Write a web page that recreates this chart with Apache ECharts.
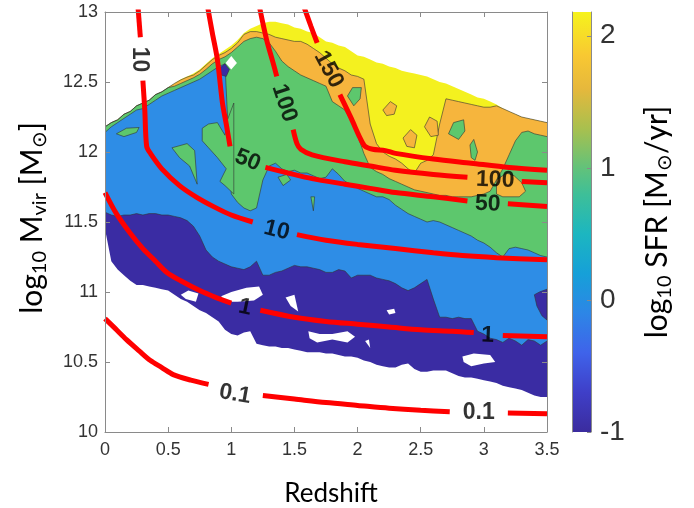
<!DOCTYPE html>
<html>
<head>
<meta charset="utf-8">
<script src="https://cdn.jsdelivr.net/npm/echarts@6/dist/echarts.min.js"></script>
<style>
html, body { margin: 0; padding: 0; background: #fff; }
#main { width: 694px; height: 508px; }
</style>
</head>
<body>
<div id="main"></div>
<script>
// redshift positions where the filled-contour edges were read
var zs = [0, 0.05, 0.1, 0.15, 0.2, 0.25, 0.3, 0.35, 0.4, 0.45,
  0.5, 0.55, 0.6, 0.65, 0.7, 0.75, 0.8, 0.85, 0.9, 0.95,
  1.0, 1.05, 1.1, 1.15, 1.2, 1.25, 1.3, 1.35, 1.4, 1.45,
  1.5, 1.55, 1.6, 1.65, 1.7, 1.75, 1.8, 1.85, 1.9, 1.95,
  2.0, 2.05, 2.1, 2.15, 2.2, 2.25, 2.3, 2.35, 2.4, 2.45,
  2.5, 2.55, 2.6, 2.65, 2.7, 2.75, 2.8, 2.85, 2.9, 2.95,
  3.0, 3.05, 3.1, 3.15, 3.2, 3.25, 3.3, 3.35, 3.4, 3.45, 3.5];

// upper edge of the data (yellow top)
var topData = [12.18, 12.21, 12.23, 12.27, 12.29, 12.33, 12.35, 12.37, 12.41, 12.43,
  12.46, 12.49, 12.52, 12.54, 12.56, 12.59, 12.63, 12.67, 12.70, 12.73,
  12.76, 12.80, 12.85, 12.88, 12.90, 12.92, 12.93, 12.93, 12.92, 12.91,
  12.89, 12.88, 12.86, 12.85, 12.82, 12.79, 12.78, 12.76, 12.75, 12.72,
  12.69, 12.68, 12.66, 12.64, 12.63, 12.61, 12.60, 12.58, 12.57, 12.56,
  12.55, 12.54, 12.52, 12.50, 12.49, 12.47, 12.45, 12.43, 12.41, 12.39,
  12.38, 12.36, 12.34, 12.31, 12.29, 12.27, 12.25, 12.24, 12.23, 12.22, 12.21];
// orange / yellow edge
var orangeTop = [12.18, 12.21, 12.23, 12.27, 12.29, 12.33, 12.35, 12.37, 12.41, 12.43,
  12.46, 12.49, 12.515, 12.535, 12.55, 12.58, 12.62, 12.66, 12.69, 12.71,
  12.74, 12.78, 12.84, 12.86, 12.86, 12.85, 12.84, 12.82, 12.81, 12.80,
  12.79, 12.79, 12.77, 12.74, 12.71, 12.67, 12.63, 12.60, 12.58, 12.55,
  12.54, 12.52, 12.20, 12.06, 12.00, 11.97, 11.95, 11.92, 11.88, 11.85,
  11.92, 11.94, 11.98, 12.20, 12.38, 12.37, 12.36, 12.35, 12.34, 12.33,
  12.32, 12.32, 12.33, 12.31, 12.29, 12.27, 12.25, 12.24, 12.23, 12.22, 12.21];
// green / orange edge
var greenTop = [12.18, 12.21, 12.23, 12.27, 12.29, 12.33, 12.35, 12.37, 12.41, 12.43,
  12.46, 12.47, 12.49, 12.51, 12.53, 12.555, 12.59, 12.63, 12.66, 12.68,
  12.71, 12.75, 12.79, 12.81, 12.82, 12.81, 12.78, 12.72, 12.65, 12.61,
  12.58, 12.55, 12.53, 12.51, 12.49, 12.47, 12.36, 12.33, 12.30, 12.22,
  12.12, 11.99, 11.89, 11.86, 11.84, 11.81, 11.79, 11.77, 11.75, 11.73,
  11.72, 11.71, 11.70, 11.69, 11.69, 11.68, 11.68, 11.68, 11.68, 11.69,
  11.70, 11.72, 11.80, 11.88, 11.98, 12.08, 12.14, 12.15, 12.13, 12.12, 12.11];
// blue / green edge
var blueTop = [12.14, 12.18, 12.21, 12.24, 12.27, 12.30, 12.31, 12.34, 12.37, 12.40,
  12.42, 12.44, 12.46, 12.48, 12.50, 12.52, 12.55, 12.58, 12.61, 12.63,
  11.70, 11.64, 11.60, 11.58, 11.60, 11.80, 11.90, 11.92, 11.88, 11.86,
  11.87, 11.85, 11.85, 11.83, 11.81, 11.82, 11.88, 11.84, 11.79, 11.77,
  11.74, 11.72, 11.70, 11.68, 11.68, 11.66, 11.62, 11.59, 11.56, 11.54,
  11.52, 11.50, 11.51, 11.50, 11.48, 11.46, 11.44, 11.42, 11.40, 11.37,
  11.35, 11.32, 11.28, 11.25, 11.31, 11.32, 11.31, 11.30, 11.28, 11.26, 11.25];
// purple / blue edge
var purpleTop = [11.57, 11.55, 11.54, 11.55, 11.55, 11.56, 11.55, 11.56, 11.56, 11.55,
  11.55, 11.54, 11.53, 11.51, 11.47, 11.40, 11.30, 11.25, 11.22, 11.20,
  11.18, 11.17, 11.16, 11.18, 11.22, 11.12, 11.12, 11.14, 11.15, 11.17,
  11.19, 11.18, 11.18, 11.17, 11.16, 11.14, 11.14, 11.16, 11.15, 11.10,
  11.12, 11.12, 11.12, 11.10, 11.09, 11.08, 11.06, 11.03, 11.01, 11.03,
  11.06, 11.09, 10.95, 10.82, 10.82, 10.81, 10.82, 10.81, 10.81, 10.72,
  10.70, 10.67, 10.66, 10.64, 10.67, 10.65, 10.62, 10.66, 10.65, 10.62, 10.65];
// lower edge of the data (purple bottom)
var purpleBottom = [11.45, 11.22, 11.16, 11.12, 11.08, 11.05, 11.05, 11.04, 11.03, 11.02,
  11.01, 10.98, 10.95, 10.93, 10.90, 10.87, 10.85, 10.82, 10.79, 10.73,
  10.70, 10.69, 10.71, 10.72, 10.63, 10.62, 10.61, 10.61, 10.60, 10.60,
  10.59, 10.58, 10.57, 10.57, 10.57, 10.56, 10.56, 10.55, 10.54, 10.54,
  10.53, 10.51, 10.50, 10.48, 10.47, 10.46, 10.46, 10.48, 10.49, 10.45,
  10.43, 10.43, 10.44, 10.44, 10.44, 10.42, 10.40, 10.39, 10.39, 10.38,
  10.37, 10.36, 10.35, 10.33, 10.32, 10.31, 10.30, 10.28, 10.26, 10.25, 10.25];

// patches that do not follow the bands (0 white, 1 purple, 2 blue, 3 green, 4 orange, 5 yellow)
var islands = [
  { level: 0, pts: [[0.955, 12.635], [1.0, 12.685], [1.045, 12.635], [1.0, 12.59]] },
  { level: 1, pts: [[0.91, 12.60], [0.95, 12.63], [0.985, 12.59], [0.96, 12.54], [0.92, 12.55]] },
  { level: 3, pts: [[0.77, 12.17], [0.82, 12.20], [0.89, 12.21], [0.95, 12.12], [0.97, 12.23], [1.02, 12.35], [1.02, 11.70], [0.95, 11.76], [0.91, 11.79], [0.96, 11.88], [0.89, 11.96], [0.82, 12.03], [0.77, 12.08]] },
  { level: 3, pts: [[0.09, 12.13], [0.17, 12.17], [0.27, 12.175], [0.25, 12.14], [0.15, 12.11]] },
  { level: 3, pts: [[0.53, 12.03], [0.65, 12.06], [0.71, 12.01], [0.73, 11.77], [0.67, 11.90], [0.59, 11.96]] },
  { level: 3, pts: [[1.37, 11.82], [1.44, 11.84], [1.47, 11.80], [1.41, 11.76]] },
  { level: 3, pts: [[1.63, 11.68], [1.66, 11.68], [1.65, 11.58]] },
  { level: 3, pts: [[1.92, 12.40], [1.96, 12.46], [2.03, 12.46], [2.02, 12.38], [1.97, 12.33]] },
  { level: 3, pts: [[2.72, 12.13], [2.76, 12.21], [2.84, 12.23], [2.85, 12.15], [2.80, 12.09]] },
  { level: 3, pts: [[2.89, 12.05], [2.92, 12.09], [2.95, 12.0], [2.93, 11.94], [2.90, 11.96]] },
  { level: 4, pts: [[3.10, 11.80], [3.18, 11.85], [3.24, 11.83], [3.30, 11.78], [3.33, 11.72], [3.28, 11.68], [3.15, 11.68], [3.10, 11.70]] },
  { level: 4, pts: [[2.53, 12.18], [2.57, 12.25], [2.63, 12.22], [2.64, 12.12], [2.58, 12.11]] },
  { level: 4, pts: [[2.20, 12.30], [2.26, 12.36], [2.31, 12.33], [2.29, 12.27], [2.23, 12.26]] },
  { level: 4, pts: [[2.36, 12.10], [2.42, 12.16], [2.47, 12.12], [2.45, 12.03], [2.39, 12.04]] },
  { level: 1, pts: [[3.40, 10.98], [3.44, 11.0], [3.5, 11.02], [3.5, 10.80], [3.46, 10.83], [3.42, 10.90]] },
  { level: 0, pts: [[0.60, 10.98], [0.66, 11.01], [0.74, 10.99], [0.72, 10.93], [0.64, 10.95]] },
  { level: 0, pts: [[0.92, 10.97], [1.0, 11.0], [1.12, 11.03], [1.22, 11.04], [1.25, 10.98], [1.18, 10.94], [1.05, 10.93], [0.95, 10.93]] },
  { level: 0, pts: [[1.43, 10.96], [1.50, 10.98], [1.53, 10.86], [1.47, 10.90]] },
  { level: 0, pts: [[1.61, 10.72], [1.70, 10.70], [1.80, 10.70], [1.92, 10.72], [1.98, 10.68], [1.92, 10.64], [1.80, 10.66], [1.68, 10.64], [1.62, 10.67]] },
  { level: 0, pts: [[2.83, 10.54], [2.92, 10.56], [3.05, 10.55], [3.09, 10.50], [3.0, 10.49], [2.90, 10.47], [2.84, 10.50]] },
  { level: 0, pts: [[2.23, 10.87], [2.29, 10.88], [2.30, 10.85], [2.25, 10.84]] },
  { level: 0, pts: [[2.06, 10.65], [2.09, 10.66], [2.10, 10.60]] }
];

// red SFR curves, split where the labels sit
var curve01 = [
  [[0, 10.81], [0.08, 10.74], [0.17, 10.66], [0.27, 10.58], [0.36, 10.51], [0.45, 10.46], [0.54, 10.41], [0.68, 10.37], [0.82, 10.34]],
  [[1.25, 10.26], [1.5, 10.235], [1.75, 10.21], [2.0, 10.19], [2.25, 10.17], [2.5, 10.155], [2.73, 10.145]],
  [[3.19, 10.135], [3.5, 10.13]]
];
var curve1 = [
  [[0, 11.71], [0.09, 11.56], [0.2, 11.42], [0.3, 11.31], [0.4, 11.22], [0.49, 11.14], [0.6, 11.08], [0.75, 11.01], [0.88, 10.96], [1.0, 10.92]],
  [[1.23, 10.87], [1.5, 10.82], [1.75, 10.79], [2.0, 10.77], [2.25, 10.75], [2.5, 10.73], [2.75, 10.72], [2.92, 10.71]],
  [[3.15, 10.69], [3.5, 10.68]]
];
var curve10 = [
  [[0.26, 13.05], [0.28, 12.82]],
  [[0.30, 12.51], [0.315, 12.3], [0.33, 12.04], [0.36, 11.99], [0.45, 11.88], [0.59, 11.76], [0.72, 11.68], [0.86, 11.61], [1.0, 11.55], [1.17, 11.50]],
  [[1.52, 11.41], [1.75, 11.37], [2.0, 11.34], [2.3, 11.31], [2.6, 11.28], [2.83, 11.26], [3.1, 11.245], [3.5, 11.23]]
];
var curve50 = [
  [[0.81, 13.05], [0.85, 12.85], [0.89, 12.66], [0.93, 12.35], [0.96, 12.2], [0.99, 12.04]],
  [[1.27, 11.89], [1.45, 11.85], [1.64, 11.81], [1.9, 11.77], [2.1, 11.74], [2.3, 11.71], [2.6, 11.68], [2.87, 11.65]],
  [[3.19, 11.63], [3.5, 11.61]]
];
var curve100 = [
  [[1.22, 13.05], [1.28, 12.8], [1.33, 12.64], [1.36, 12.54]],
  [[1.49, 12.16], [1.52, 12.06], [1.55, 12.02], [1.64, 11.98], [1.9, 11.93], [2.1, 11.90], [2.3, 11.87], [2.6, 11.84], [2.87, 11.82]],
  [[3.30, 11.79], [3.5, 11.78]]
];
var curve150 = [
  [[1.57, 13.05], [1.63, 12.9], [1.68, 12.78]],
  [[1.86, 12.41], [1.95, 12.24], [2.02, 12.10], [2.06, 12.04], [2.12, 12.02], [2.22, 12.01], [2.3, 11.99], [2.6, 11.95], [2.9, 11.92], [3.2, 11.89], [3.5, 11.87]]
];

// contour labels: text, redshift, log mass, angle
var labelText = ['0.1', '0.1', '1', '1', '10', '10', '50', '50', '100', '100', '150'];
var labelZ = [1.03, 2.96, 1.11, 3.03, 0.27, 1.36, 1.13, 3.03, 1.42, 3.09, 1.77];
var labelM = [10.27, 10.14, 10.89, 10.69, 12.66, 11.44, 11.94, 11.63, 12.35, 11.80, 12.59];
var labelAngle = [-10, 0, -12, -2, -90, -14, -22, -2, -72, -2, -62];

// colour bar
var cbMin = -1, cbMax = 2.18;
var cbValues = [-1.0, -0.7, -0.4, -0.1, 0.2, 0.5, 0.8, 1.0, 1.3, 1.6, 1.85, 2.18];
var cbColors = ['#3b2c9e', '#3f3fc8', '#3f63ea', '#2d86e6', '#16a0d8', '#1cb6c0', '#3ebf98', '#62c27a', '#a9c04e', '#e6b83c', '#f8c832', '#f6f31c'];

var levelColors = ['#ffffff', '#3a2ca3', '#2e8de6', '#5dc76d', '#f6b53d', '#f4f11f'];
var axisGray = '#8a8a8a';
var tickFont = 'Liberation Sans';

var chart = echarts.init(document.getElementById('main'));

function band(ys, color, edge) {
  return {
    type: 'line',
    data: zs.map(function (z, i) { return [z, ys[i]]; }),
    symbol: 'none',
    silent: true,
    animation: false,
    lineStyle: edge ? { width: 0.6, color: '#333' } : { width: 0, opacity: 0 },
    areaStyle: { color: color, opacity: 1, origin: 'start' },
    z: 1
  };
}

var series = [
  band(topData, levelColors[5], false),
  band(orangeTop, levelColors[4], true),
  band(greenTop, levelColors[3], true),
  band(blueTop, levelColors[2], true),
  band(purpleTop, levelColors[1], true),
  band(purpleBottom, levelColors[0], false),
  {
    type: 'custom',
    silent: true,
    animation: false,
    z: 2,
    data: islands.map(function (d, i) { return [d.pts[0][0], d.pts[0][1], i]; }),
    renderItem: function (params, api) {
      var isl = islands[api.value(2)];
      var pts = isl.pts.map(function (p) { return api.coord(p); });
      return {
        type: 'polygon',
        shape: { points: pts },
        style: {
          fill: levelColors[isl.level],
          stroke: isl.level === 0 ? null : '#333',
          lineWidth: 0.6
        }
      };
    }
  }
];

[curve01, curve1, curve10, curve50, curve100, curve150].forEach(function (curve) {
  curve.forEach(function (seg) {
    series.push({
      type: 'line',
      data: seg,
      symbol: 'none',
      smooth: 0.3,
      silent: true,
      animation: false,
      lineStyle: { color: '#ff0000', width: 5 },
      z: 3
    });
  });
});

series.push({
  type: 'scatter',
  symbolSize: 2,
  itemStyle: { color: 'rgba(0,0,0,0)' },
  silent: true,
  animation: false,
  z: 4,
  data: labelText.map(function (t, i) {
    return { name: t, value: [labelZ[i], labelM[i]], label: { rotate: labelAngle[i] } };
  }),
  label: {
    show: true,
    position: 'inside',
    formatter: '{b}',
    color: '#000',
    textBorderWidth: 0,
    fontSize: 23,
    fontWeight: 'bold',
    fontFamily: tickFont
  }
});

series.push({
  type: 'custom',
  xAxisIndex: 2,
  yAxisIndex: 2,
  silent: true,
  animation: false,
  data: [[0, cbMin, cbMax]],
  renderItem: function (params, api) {
    var lo = api.coord([0, api.value(1)]);
    var hi = api.coord([0, api.value(2)]);
    var w = api.size([1, 0])[0];
    var stops = cbValues.map(function (v, i) {
      return { offset: (v - cbMin) / (cbMax - cbMin), color: cbColors[i] };
    });
    return {
      type: 'rect',
      shape: { x: lo[0] - w / 2, y: hi[1], width: w, height: lo[1] - hi[1] },
      style: { fill: new echarts.graphic.LinearGradient(0, 1, 0, 0, stops) }
    };
  }
});

function frameAxis(extra) {
  var base = {
    type: 'value',
    gridIndex: 0,
    z: 10,
    axisLine: { show: true, onZero: false, lineStyle: { color: axisGray, width: 1 } },
    axisTick: { show: true, inside: true, length: 5, lineStyle: { color: axisGray } },
    splitLine: { show: false },
    axisLabel: { show: false }
  };
  for (var k in extra) base[k] = extra[k];
  return base;
}

var option = {
  animation: false,
  backgroundColor: '#fff',
  grid: [
    { left: 105, top: 12, width: 442, height: 420, outerBoundsMode: 'none' },
    { left: 572, top: 12, width: 19, height: 420, outerBoundsMode: 'none' }
  ],
  xAxis: [
    frameAxis({ min: 0, max: 3.5, interval: 0.5, position: 'bottom',
      axisLabel: { show: true, color: '#333', fontSize: 18, fontFamily: tickFont, margin: 9 } }),
    frameAxis({ min: 0, max: 3.5, interval: 0.5, position: 'top' }),
    { gridIndex: 1, type: 'category', data: ['bar'], show: false }
  ],
  yAxis: [
    frameAxis({ min: 10, max: 13, interval: 0.5, position: 'left',
      axisLabel: { show: true, color: '#333', fontSize: 18, fontFamily: tickFont, margin: 7 } }),
    frameAxis({ min: 10, max: 13, interval: 0.5, position: 'right' }),
    {
      gridIndex: 1, type: 'value', min: cbMin, max: cbMax, interval: 1, position: 'right', z: 10,
      axisLine: { show: true, lineStyle: { color: axisGray } },
      axisTick: { show: true, inside: true, length: 4, lineStyle: { color: axisGray } },
      splitLine: { show: false },
      axisLabel: { color: '#333', fontSize: 28, fontFamily: tickFont, margin: 9, showMaxLabel: false }
    },
    {
      gridIndex: 1, type: 'value', min: cbMin, max: cbMax, position: 'left', z: 10,
      axisLine: { show: true, lineStyle: { color: axisGray } },
      axisTick: { show: false }, axisLabel: { show: false }, splitLine: { show: false }
    }
  ],
  graphic: [
    {
      type: 'text', x: 331, y: 494, silent: true,
      style: { text: 'Redshift', fontSize: 26, fontFamily: 'Lato', fill: '#000',
        align: 'center', verticalAlign: 'middle', textAlign: 'center', textVerticalAlign: 'middle' }
    },
    {
      type: 'text', x: 32, y: 218, rotation: Math.PI / 2, silent: true,
      style: {
        text: '{m|log}{s|10}{m| M}{s|vir}{m| [M}{s|⊙}{m|]}',
        align: 'center', verticalAlign: 'middle', textAlign: 'center', textVerticalAlign: 'middle',
        rich: {
          m: { fontSize: 30, fontFamily: 'Lato', fill: '#000', color: '#000', lineHeight: 36 },
          s: { fontSize: 20, fontFamily: 'Lato', fill: '#000', color: '#000', lineHeight: 12, verticalAlign: 'bottom' }
        }
      }
    },
    {
      type: 'text', x: 657, y: 222, rotation: Math.PI / 2, silent: true,
      style: {
        text: '{m|log}{s|10}{m| SFR [M}{s|⊙}{m|/yr]}',
        align: 'center', verticalAlign: 'middle', textAlign: 'center', textVerticalAlign: 'middle',
        rich: {
          m: { fontSize: 30, fontFamily: 'Lato', fill: '#000', color: '#000', lineHeight: 36 },
          s: { fontSize: 20, fontFamily: 'Lato', fill: '#000', color: '#000', lineHeight: 12, verticalAlign: 'bottom' }
        }
      }
    }
  ],
  series: series
};

chart.setOption(option);
</script>
</body>
</html>
